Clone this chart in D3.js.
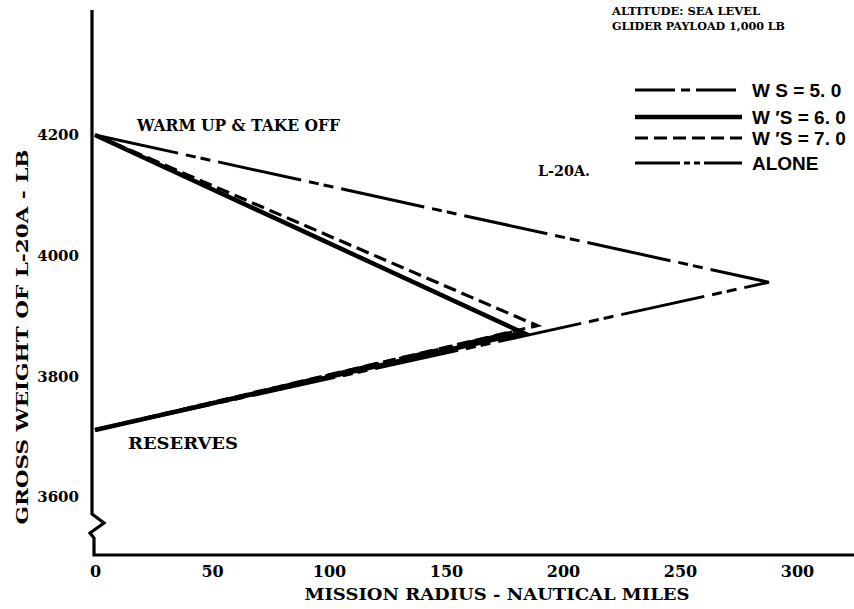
<!DOCTYPE html>
<html><head><meta charset="utf-8">
<script src="https://cdn.jsdelivr.net/npm/d3@7"></script>
<style>body{margin:0;background:#fff}svg{display:block}</style>
</head><body>
<svg id="c" width="854" height="609"></svg>
<script>
// ---- data ----
const xTicks = [0, 50, 100, 150, 200, 250, 300];
const yTicks = [3600, 3800, 4000, 4200];
const seriesNames = ["W/S = 5.0", "W/S = 6.0", "W/S = 7.0", "ALONE"];
const legendLabels = ["W  S = 5. 0", "W ′S = 6. 0", "W ′S = 7. 0", "ALONE"];
const ws5Radius = [0, 181, 0];
const ws5Weight = [4200, 3876, 3711];
const ws6Radius = [0, 183, 0];
const ws6Weight = [4200, 3872, 3711];
const ws7Radius = [0, 189, 0];
const ws7Weight = [4200, 3884, 3711];
const aloneRadius = [0, 288, 0];
const aloneWeight = [4200, 3956, 3711];

const svg = d3.select("#c");
const x = d3.scaleLinear().domain([0, 300]).range([95, 797]);
const y = d3.scaleLinear().domain([3600, 4200]).range([497, 135]);

const serif = "'DejaVu Serif', 'Liberation Serif', serif";
const sans = "'Liberation Sans', Arial, sans-serif";

const styles = [
  {dash: "40,6,9,6", w: 3},
  {dash: null, w: 4.5},
  {dash: "13,6", w: 3.2},
  {dash: "85,8,10,5,10,8", w: 3}
];
const series = [
  {r: ws5Radius, wt: ws5Weight},
  {r: ws6Radius, wt: ws6Weight},
  {r: ws7Radius, wt: ws7Weight},
  {r: aloneRadius, wt: aloneWeight}
];

// axes
const ax0 = x(0) - 3;
svg.append("path")
  .attr("d", `M${ax0},10 L${ax0},514 L${ax0+12},523 L${ax0-2},533 L${ax0+2},538 L${ax0+2},555 L854,555`)
  .attr("fill", "none").attr("stroke", "#000").attr("stroke-width", 3.2).attr("stroke-linejoin", "miter");

const xAxis = svg.append("g").attr("transform", "translate(0,555)")
  .call(d3.axisBottom(x).tickValues(xTicks).tickSize(0).tickPadding(11).tickFormat(d3.format("d")));
xAxis.select(".domain").remove();
xAxis.selectAll("text").attr("font-family", serif).attr("font-weight", "bold")
  .attr("font-size", 16).attr("fill", "#000");

const yAxis = svg.append("g").attr("transform", `translate(${ax0},0)`)
  .call(d3.axisLeft(y).tickValues(yTicks).tickSize(0).tickPadding(13).tickFormat(d3.format("d")));
yAxis.select(".domain").remove();
yAxis.selectAll("text").attr("font-family", serif).attr("font-weight", "bold")
  .attr("font-size", 15).attr("fill", "#000");

// lines
const line = d3.line().x(d => x(d[0])).y(d => y(d[1]));
[3, 0, 2, 1].forEach(i => {
  const s = series[i];
  const pts = s.r.map((v, k) => [v, s.wt[k]]);
  svg.append("path").attr("d", line(pts))
    .attr("fill", "none").attr("stroke", "#000")
    .attr("stroke-width", styles[i].w)
    .attr("stroke-dasharray", styles[i].dash)
    .attr("stroke-linejoin", "miter").attr("stroke-linecap", "butt");
});

// legend
const legRows = [90, 117, 138, 163];
legendLabels.forEach((lab, i) => {
  svg.append("line").attr("x1", 635).attr("x2", 742)
    .attr("y1", legRows[i]).attr("y2", legRows[i])
    .attr("stroke", "#000").attr("stroke-width", styles[i].w)
    .attr("stroke-dasharray", i === 0 ? "40,6,9,6" : i === 2 ? "13,6" : i === 3 ? "45,4,6,4,6,4" : null);
  svg.append("text").attr("x", 752).attr("y", legRows[i] + 7)
    .attr("font-family", sans).attr("font-weight", "bold").attr("font-size", 19)
    .attr("fill", "#000").text(lab);
});

// annotations
function txt(t, xx, yy, size, len, font, anchor, rot) {
  const el = svg.append("text").attr("x", xx).attr("y", yy)
    .attr("font-family", font || serif).attr("font-weight", "bold").attr("font-size", size)
    .attr("text-anchor", anchor || "start").attr("fill", "#000").text(t);
  if (len) el.attr("textLength", len).attr("lengthAdjust", "spacingAndGlyphs");
  if (rot) el.attr("transform", `rotate(${rot},${xx},${yy})`);
  return el;
}
txt("ALTITUDE:  SEA LEVEL", 612, 15, 11, 148);
txt("GLIDER PAYLOAD 1,000 LB", 612, 30, 11, 173);
txt("WARM UP & TAKE OFF", 137, 131, 16, 203);
txt("RESERVES", 128, 449, 16, 110);
txt("L-20A.", 538, 176, 15, 52);
txt("MISSION RADIUS - NAUTICAL MILES", 497, 600, 16, 385, serif, "middle");
txt("GROSS WEIGHT OF L-20A - LB", 28, 337, 16, 375, serif, "middle", -90);
</script>
</body></html>
